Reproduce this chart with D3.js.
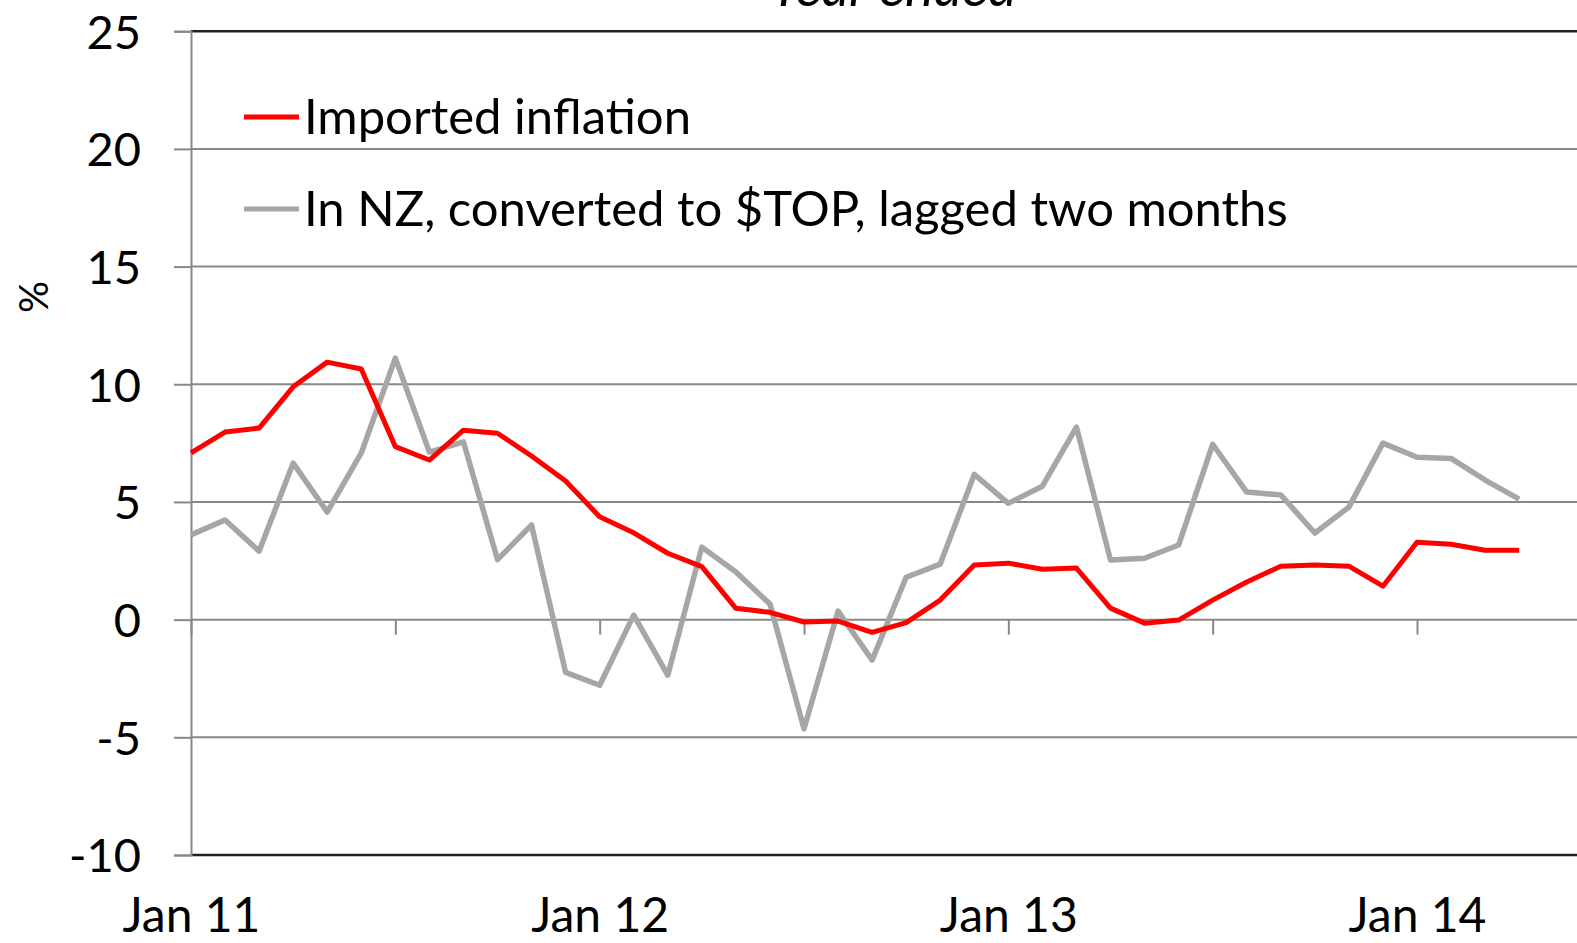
<!DOCTYPE html>
<html><head><meta charset="utf-8">
<script src="https://cdn.jsdelivr.net/npm/d3@7"></script>
<style>html,body{margin:0;padding:0;background:#fff;overflow:hidden}</style>
</head><body>
<svg id="c" width="1577" height="943"></svg>
<script>
const months = ["Jan 11","Feb 11","Mar 11","Apr 11","May 11","Jun 11","Jul 11","Aug 11","Sep 11","Oct 11","Nov 11","Dec 11",
"Jan 12","Feb 12","Mar 12","Apr 12","May 12","Jun 12","Jul 12","Aug 12","Sep 12","Oct 12","Nov 12","Dec 12",
"Jan 13","Feb 13","Mar 13","Apr 13","May 13","Jun 13","Jul 13","Aug 13","Sep 13","Oct 13","Nov 13","Dec 13",
"Jan 14","Feb 14","Mar 14","Apr 14"];
const importedInflation = [7.08,7.97,8.14,9.89,10.94,10.65,7.35,6.78,8.05,7.92,6.95,5.89,
4.37,3.69,2.82,2.25,0.48,0.31,-0.1,-0.06,-0.54,-0.13,0.83,2.32,
2.4,2.14,2.19,0.49,-0.15,-0.02,0.83,1.6,2.27,2.32,2.27,1.42,
3.29,3.2,2.95,2.95];
const nzConverted = [3.6,4.23,2.91,6.65,4.57,7.08,11.11,7.12,7.55,2.55,4.02,-2.24,
-2.79,0.19,-2.36,3.08,2.02,0.66,-4.64,0.36,-1.72,1.8,2.36,6.17,
4.94,5.67,8.18,2.53,2.61,3.17,7.45,5.42,5.3,3.68,4.78,7.5,
6.9,6.85,5.93,5.12];
const yTicks = [25,20,15,10,5,0,-5,-10];
const xTickLabels = ["Jan 11","Jan 12","Jan 13","Jan 14"];
const seriesNames = ["Imported inflation","In NZ, converted to $TOP, lagged two months"];
const seriesColors = ["#FF0000","#A6A6A6"];
const title = "Year ended";
const yLabel = "%";

const svg = d3.select("#c");
const font = "Lato, 'Open Sans', sans-serif";
const x = d3.scaleLinear().domain([0,36]).range([191,1417]);
const y = d3.scaleLinear().domain([-10,25]).range([855,31.2]);
const left = 191, right = 1577;

// gridlines
const g = svg.append("g");
g.selectAll("line.grid").data(yTicks.filter(v=>v>-10 && v<25)).join("line")
  .attr("x1",left).attr("x2",right).attr("y1",d=>y(d)).attr("y2",d=>y(d))
  .attr("stroke","#888").attr("stroke-width",2);
// top and bottom borders
[25,-10].forEach(v=>{
  g.append("line").attr("x1",left).attr("x2",right).attr("y1",y(v)).attr("y2",y(v))
   .attr("stroke","#222").attr("stroke-width",2.5);
});
// y axis
const yAxis = d3.axisLeft(y).tickValues(yTicks).tickSize(17).tickFormat(d=>String(d));
const ya = svg.append("g").attr("transform",`translate(${left},0)`).call(yAxis);
ya.select(".domain").attr("stroke","#888").attr("stroke-width",2);
ya.selectAll(".tick line").attr("stroke","#888").attr("stroke-width",2);
ya.selectAll(".tick text").attr("font-family",font).attr("font-size",47).attr("fill","#000")
  .attr("dy","0.36em").attr("x",-50);

// x axis ticks at zero line every 6 months
const xAxis = d3.axisBottom(x).tickValues(d3.range(0,42,6)).tickSize(15)
  .tickFormat(d=> d%12===0 ? xTickLabels[d/12] : "");
const xa = svg.append("g").attr("transform",`translate(0,${y(0)})`).call(xAxis);
xa.select(".domain").remove();
xa.selectAll(".tick line").attr("stroke","#888").attr("stroke-width",2);
xa.selectAll(".tick text").attr("font-family",font).attr("font-size",48).attr("fill","#000")
  .attr("y", 932 - y(0)).attr("dy",0);

// lines
const line = d3.line().x((d,i)=>x(i)).y(d=>y(d));
[nzConverted, importedInflation].forEach((s,k)=>{
  const idx = k===0 ? 1 : 0;
  svg.append("path").datum(s).attr("d",line).attr("fill","none")
    .attr("stroke",seriesColors[idx]).attr("stroke-width",idx===1?5.5:5).attr("stroke-linejoin","round");
});

// legend
const legY = [117,209];
seriesNames.forEach((n,i)=>{
  svg.append("line").attr("x1",244).attr("x2",299).attr("y1",legY[i]).attr("y2",legY[i])
    .attr("stroke",seriesColors[i]).attr("stroke-width",5);
  svg.append("text").attr("x",304).attr("y",legY[i]).attr("dy","0.35em")
    .attr("font-family",font).attr("font-size",49).attr("fill","#000").text(n);
});

// title (cut off at top, as in the reference)
svg.append("text").attr("x",893).attr("y",6).attr("text-anchor","middle")
  .attr("font-family",font).attr("font-size",54).attr("font-style","italic").attr("fill","#000").text(title);

// y label
svg.append("text").attr("transform","translate(48,297) rotate(-90)").attr("text-anchor","middle")
  .attr("font-family",font).attr("font-size",40).attr("fill","#000").text(yLabel);
</script>
</body></html>
